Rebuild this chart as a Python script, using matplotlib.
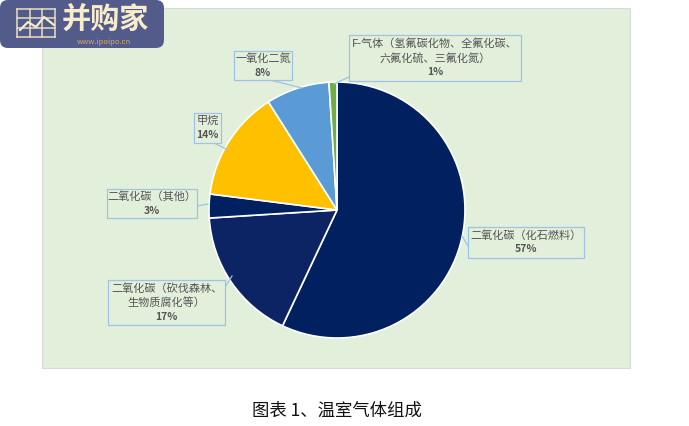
import matplotlib
matplotlib.use("Agg")
import matplotlib.pyplot as plt
from matplotlib.patches import Rectangle, FancyBboxPatch

plt.rcParams['font.family'] = ['Noto Sans CJK SC', 'DejaVu Sans']

# data
names = [['二氧化碳（化石燃料）'], ['二氧化碳（砍伐森林、', '生物质腐化等）'], ['二氧化碳（其他）'],
         ['甲烷'], ['一氧化二氮'], ['F-气体（氢氟碳化物、全氟化碳、', '六氟化硫、三氟化氮）']]
shares = [57, 17, 3, 14, 8, 1]
colors = ['#002060', '#0C2464', '#002060', '#FFC000', '#5B9BD5', '#70AD47']

# label boxes (left, top, width, height in pixels from top-left) and pointers
boxes = [(468, 227, 116, 31), (108, 280, 117, 45), (107, 189, 90, 29), (194, 113, 27, 30),
         (234, 51, 58, 29), (349, 35, 172, 46)]
pointer = [((468, 246), (462, 236)), ((225, 287), (232, 276)), ((197, 206), (208, 204)),
           ((214, 143), (228, 150)), ((270, 80), (302, 88)), ((349, 77), (334, 84))]

W, H = 689, 426
fig = plt.figure(figsize=(W / 100, H / 100), dpi=100)
ax = fig.add_axes([0, 0, 1, 1])

# green plot area
ax.add_patch(Rectangle((42, H - 368), 588, 360, facecolor='#E2EFDA', edgecolor='#D9D9D9', lw=0.8, zorder=0))

ax.pie(shares, colors=colors, startangle=90, counterclock=False, center=(337, H - 210), radius=128,
       wedgeprops=dict(edgecolor='white', linewidth=1.2), frame=False)

for lines, v, (bx, by, bw, bh), (p0, p1) in zip(names, shares, boxes, pointer):
    ax.plot([p0[0], p1[0]], [H - p0[1], H - p1[1]], color='#9DC3E6', lw=0.9, zorder=3)
    ax.add_patch(Rectangle((bx, H - by - bh), bw, bh, facecolor='#E2EFDA', edgecolor='#9DC3E6',
                           lw=0.9, zorder=3))
    cx = bx + bw / 2
    y = by + bh / 2 - 7 * len(lines)
    for s in lines:
        ax.text(cx, H - y, s, ha='center', va='center', fontsize=8, color='#555555', zorder=4)
        y += 14
    ax.text(cx, H - y, f'{v}%', ha='center', va='center', fontsize=7.5, color='#555555',
            fontweight='bold', zorder=4)

# caption
ax.text(337, H - 411, '图表 1、温室气体组成', ha='center', va='center', fontsize=12.5, color='#111111')

# logo
ax.add_patch(FancyBboxPatch((0, H - 48), 164, 48, boxstyle='round,pad=0,rounding_size=8',
                            facecolor='#535B8A', edgecolor='none', zorder=5))
gx0, gy0, gw, gh = 17, 9, 38, 28
for i in range(4):
    ax.plot([gx0 + i * gw / 3] * 2, [H - gy0, H - gy0 - gh], color='#E8DFC0', lw=1.1, zorder=6)
for j in range(4):
    ax.plot([gx0, gx0 + gw], [H - gy0 - j * gh / 3] * 2, color='#E8DFC0', lw=1.1, zorder=6)
ax.plot([20, 28, 36, 44, 54], [H - 30, H - 22, H - 27, H - 17, H - 25], color='#F5EBCB', lw=1.6, zorder=6)
ax.text(105, H - 19, '并购家', ha='center', va='center', fontsize=21, fontweight='bold',
        color='#F6ECCB', zorder=6)
ax.text(104, H - 42, 'www.ipoipo.cn', ha='center', va='center', fontsize=5.5, color='#D9A85A', zorder=6)

ax.set_xlim(0, W)
ax.set_ylim(0, H)
ax.axis('off')
fig.savefig('out.png', dpi=100, facecolor='white')
